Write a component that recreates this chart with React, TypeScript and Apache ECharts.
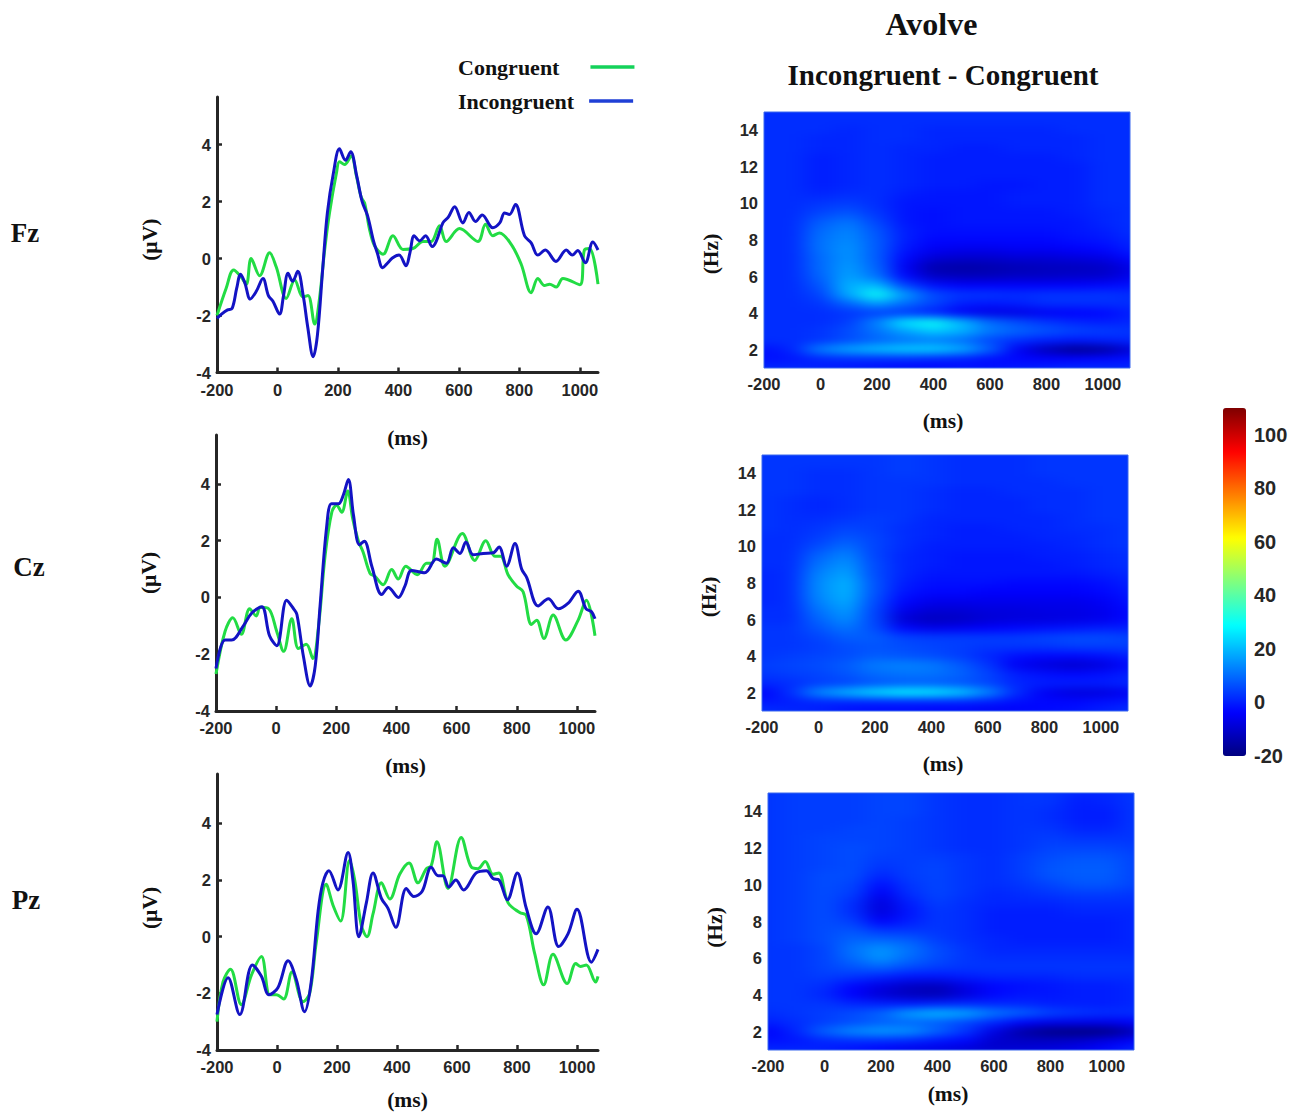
import React, { useEffect, useRef } from "react";
import * as echarts from "echarts";

const serif = "Liberation Serif";
const sans = "Liberation Sans";
const ink = "#262626";
const greenLine = "#22dc44";
const blueLine = "#1313c4";
const greenKey = "#14d25a";
const blueKey = "#1f3fd6";
const jetStops = ["#00007f", "#0000ff", "#007fff", "#00ffff", "#7fff7f", "#ffff00", "#ff7f00", "#ff0000", "#7f0000"];

const lineTicksX = [-200, 0, 200, 400, 600, 800, 1000];
const lineTicksY = [-4, -2, 0, 2, 4];
const heatTicksX = [-200, 0, 200, 400, 600, 800, 1000];
const heatTicksY = [2, 4, 6, 8, 10, 12, 14];
const barTicks = [-20, 0, 20, 40, 60, 80, 100];
const heatTimes = [-200, -100, 0, 100, 200, 300, 400, 500, 600, 700, 800, 900, 1000, 1100];
const heatFreqs = [1, 1.5, 2, 2.5, 3, 3.5, 4, 4.5, 5, 5.5, 6, 6.5, 7, 7.5, 8, 8.5, 9, 9.5, 10, 10.5, 11, 11.5, 12, 12.5, 13, 13.5, 14, 14.5, 15];

const fzCongruent = [[-200,-2.0],[-170,-1.05],[-145,-0.4],[-120,-0.65],[-103,-0.9],[-87,0],[-59,-0.6],[-26,0.2],[-4,-0.3],[29,-1.4],[57,-0.75],[84,-1.35],[101,-1.3],[123,-2.3],[139,-1.4],[156,0.3],[172,1.6],[195,3.0],[205,3.4],[222,3.3],[244,3.6],[261,2.9],[277,2.15],[288,1.95],[305,1.0],[321,0.45],[349,0.15],[382,0.8],[415,0.32],[448,0.35],[481,0.6],[508,0.6],[536,1.15],[558,0.6],[602,1.05],[663,0.6],[688,1.2],[712,0.8],[734,0.9],[773,0.5],[806,-0.2],[839,-1.2],[861,-0.7],[883,-0.95],[900,-0.9],[922,-1.0],[944,-0.7],[1000,-0.92],[1015,0.3],[1032,0.35],[1060,-0.9]];
const fzIncongruent = [[-200,-2.1],[-185,-1.95],[-165,-1.8],[-150,-1.75],[-135,-1.05],[-122,-0.55],[-108,-0.85],[-90,-1.42],[-70,-1.15],[-48,-0.7],[-30,-1.3],[-15,-1.5],[7,-1.95],[20,-1.3],[35,-0.52],[50,-0.8],[67,-0.45],[85,-1.3],[100,-2.4],[118,-3.45],[132,-2.7],[150,-0.3],[165,1.6],[185,3.0],[205,3.85],[225,3.45],[242,3.75],[262,2.9],[280,2.0],[298,1.5],[318,0.6],[330,0.2],[348,-0.32],[365,-0.15],[380,0.02],[402,0.12],[425,-0.25],[438,0.2],[452,0.8],[470,0.62],[490,0.8],[512,0.42],[525,0.6],[547,1.25],[565,1.45],[586,1.82],[613,1.25],[633,1.62],[655,1.3],[677,1.53],[712,1.08],[735,1.25],[751,1.6],[767,1.55],[787,1.9],[817,0.8],[839,0.55],[861,0.12],[886,0.3],[921,-0.1],[955,0.3],[975,0.12],[993,0.28],[1018,-0.15],[1043,0.58],[1060,0.3]];
const czCongruent = [[-200,-2.7],[-170,-1.2],[-144,-0.72],[-116,-1.3],[-88,-0.4],[-66,-0.65],[-53,-0.35],[-25,-0.4],[2,-1.2],[25,-1.9],[52,-0.75],[74,-1.8],[100,-1.65],[122,-2.15],[141,-1.0],[163,1.5],[185,3.0],[201,3.25],[218,3.0],[238,3.75],[254,2.8],[273,2.0],[289,1.6],[312,0.85],[328,0.75],[356,0.45],[384,0.98],[406,0.65],[431,1.1],[469,0.8],[500,1.2],[517,1.2],[535,2.05],[561,1.1],[619,2.25],[660,1.3],[697,2.0],[727,1.45],[746,1.45],[771,0.8],[799,0.4],[821,0.2],[849,-0.95],[866,-0.8],[890,-1.45],[921,-0.62],[963,-1.5],[1004,-0.8],[1031,-0.1],[1060,-1.35]];
const czIncongruent = [[-200,-2.5],[-170,-1.5],[-148,-1.5],[-109,-1.0],[-81,-0.55],[-48,-0.33],[-22,-1.35],[2,-1.7],[35,-0.1],[58,-0.4],[69,-0.6],[91,-2.1],[113,-3.12],[130,-2.4],[146,-0.3],[168,2.5],[184,3.3],[207,3.3],[223,3.6],[240,4.15],[257,2.9],[277,1.85],[293,1.98],[318,1.1],[351,0.1],[373,0.35],[406,0],[428,0.4],[450,0.95],[494,0.87],[533,1.35],[566,1.2],[589,1.75],[611,1.55],[631,1.95],[655,1.5],[688,1.55],[722,1.57],[741,1.78],[766,1.1],[794,1.9],[816,1.0],[833,0.7],[871,-0.3],[905,-0.05],[938,-0.4],[971,-0.2],[1004,0.22],[1030,-0.4],[1048,-0.5],[1060,-0.75]];
const pzCongruent = [[-200,-3.0],[-180,-1.6],[-155,-1.15],[-119,-2.4],[-85,-1.35],[-52,-0.7],[-24,-2.05],[-2,-2.05],[22,-2.2],[50,-1.25],[87,-2.3],[109,-2.0],[131,-0.2],[164,1.85],[187,1.1],[212,0.55],[242,2.7],[259,2.0],[281,0.4],[300,0],[320,0.8],[348,1.9],[376,1.33],[409,2.2],[440,2.6],[470,1.9],[498,2.4],[514,2.5],[533,3.35],[570,1.7],[614,3.5],[648,2.45],[670,2.4],[694,2.65],[720,2.2],[739,2.25],[770,1.2],[809,0.85],[831,0.75],[859,-0.6],[889,-1.7],[920,-0.62],[967,-1.65],[996,-0.95],[1011,-1.05],[1031,-1.0],[1062,-1.6],[1070,-1.4]];
const pzIncongruent = [[-200,-2.75],[-163,-1.45],[-124,-2.75],[-82,-1.0],[-52,-1.4],[-27,-2.05],[3,-1.8],[37,-0.85],[64,-1.5],[92,-2.65],[114,-1.6],[137,0.9],[153,1.9],[173,2.33],[203,1.65],[237,2.97],[253,2.0],[273,0],[298,1.2],[320,2.25],[348,1.35],[370,1.0],[396,0.33],[431,1.7],[456,1.42],[484,1.6],[514,2.45],[537,2.15],[553,2.15],[573,1.75],[596,2.0],[622,1.65],[664,2.25],[698,2.33],[720,2.05],[740,2.0],[768,1.3],[801,2.25],[831,1.0],[864,0.1],[903,1.05],[939,-0.35],[970,0.1],[1000,0.97],[1048,-0.9],[1070,-0.45]];

// rows run from 15 Hz (first) down to 1 Hz (last), columns follow heatTimes
const fzPower = [
[2,2,2,2,2,2,2,2,2,2,2,2,2,2],[2,2,2,2,2,2,2,2,2,2,2,2,2,2],[2,2,2,1,2,2,1,1,1,1,1,2,2,2],[2,2,1,1,2,2,1,1,1,1,1,1,2,2],
[2,2,1,1,2,1,1,0,0,1,1,1,2,2],[2,2,0,1,2,1,0,0,0,0,0,1,2,2],[2,2,0,1,2,1,0,0,0,0,0,0,2,2],[2,2,0,1,2,1,0,0,0,0,0,0,2,2],
[2,2,0,1,2,1,0,0,-1,-1,0,0,2,2],[2,2,1,2,2,0,-1,-1,-1,0,0,0,2,2],[2,2,3,4,2,-1,-1,-1,-1,0,0,0,2,2],[2,2,5,7,3,-1,-2,-1,-1,-1,-1,0,1,2],
[2,2,8,11,5,-1,-2,-1,-1,-1,-1,-1,1,2],[2,2,10,13,7,0,-2,-2,-2,-2,-2,-1,0,2],[2,2,11,14,8,0,-3,-3,-3,-3,-3,-2,-1,1],[2,2,11,15,8,-1,-5,-6,-6,-5,-5,-4,-3,0],
[2,2,10,15,8,-3,-9,-10,-10,-9,-9,-8,-7,-3],[2,2,10,16,9,-5,-14,-15,-14,-13,-12,-12,-11,-7],[2,2,9,17,11,-3,-11,-12,-12,-11,-11,-10,-10,-6],[2,2,7,19,20,5,-2,-4,-4,-4,-4,-4,-3,-2],
[2,2,5,18,30,16,6,3,3,2,3,3,3,2],[2,2,3,9,16,10,5,0,-1,0,2,2,2,2],[2,2,2,3,4,3,0,-5,-7,-7,-5,-4,-3,0],[2,2,2,4,13,26,30,20,10,6,3,1,0,1],
[2,2,3,6,11,17,22,19,12,9,7,5,4,3],[2,2,3,6,9,11,12,10,5,2,0,-1,0,1],[-2,1,13,18,21,23,23,19,9,-5,-13,-18,-16,-9],[-2,-1,1,2,2,2,1,0,-2,-3,-4,-4,-3,-2],
[1,1,0,-1,-2,-3,-3,-2,-2,-1,0,1,1,1]];
const czPower = [
[3,3,3,3,3,4,3,2,2,2,3,3,3,3],[3,3,3,3,3,4,3,2,2,2,3,3,3,3],[3,3,2,2,3,4,3,2,2,2,3,3,3,3],[3,3,2,2,3,3,3,2,2,2,2,3,3,3],
[3,3,2,2,3,3,2,1,1,2,2,2,3,3],[3,2,1,2,3,3,2,1,1,1,2,2,3,3],[3,2,1,2,3,3,2,1,1,1,2,2,3,3],[3,2,2,3,4,3,1,1,1,1,1,2,3,3],
[3,2,3,5,4,2,1,0,0,1,1,2,2,3],[2,2,4,7,5,2,1,0,0,0,1,1,2,3],[2,2,6,10,5,2,0,0,0,0,0,1,2,3],[2,2,9,13,5,1,0,-1,-1,-1,0,0,1,2],
[2,2,11,15,6,1,0,-1,-1,-1,-1,0,1,2],[1,2,13,17,6,1,-1,-1,-1,-1,-1,-1,0,1],[1,2,14,19,7,0,-2,-2,-2,-3,-3,-3,-2,0],[1,2,14,19,7,-1,-3,-3,-4,-4,-4,-4,-3,-1],
[1,2,13,18,6,-3,-6,-6,-6,-6,-6,-6,-5,-2],[2,2,11,16,5,-6,-9,-9,-8,-8,-7,-7,-6,-3],[2,2,9,14,5,-9,-12,-11,-9,-8,-8,-7,-6,-3],[3,3,7,11,6,-3,-6,-5,-4,-3,-2,-1,0,0],
[3,3,5,8,8,5,4,4,4,4,5,6,6,5],[3,3,4,6,7,6,5,4,3,3,3,4,4,4],[3,4,5,6,8,7,6,4,1,-2,-3,-3,-2,0],[4,5,6,8,12,13,12,8,3,-5,-8,-10,-8,-3],
[3,4,5,7,10,11,11,9,5,0,-2,-3,-2,0],[1,2,4,5,7,8,8,7,5,1,0,0,0,1],[-4,2,14,20,25,28,27,23,14,2,-5,-8,-8,-5],[-1,0,1,1,1,1,1,1,0,-2,-3,-3,-2,-1],
[2,1,0,-2,-3,-3,-4,-4,-5,-4,-3,-2,0,2]];
const pzPower = [
[3,4,4,4,5,5,3,2,2,3,3,1,1,3],[3,4,4,4,5,5,3,2,2,3,3,0,1,3],[3,4,4,4,5,5,3,2,2,3,2,0,0,3],[3,4,4,4,5,4,3,2,2,3,2,0,0,3],
[3,4,4,5,5,4,3,2,2,3,3,1,1,3],[3,4,5,5,5,4,3,2,2,3,4,3,3,3],[3,4,5,6,5,4,3,2,2,3,5,5,5,4],[3,4,5,6,4,4,4,3,2,4,6,7,7,5],
[3,4,5,6,3,4,5,3,2,4,7,8,8,5],[3,4,6,6,1,4,5,3,2,4,7,8,8,5],[3,4,6,5,-2,3,5,3,2,3,5,7,7,5],[3,4,6,4,-5,2,5,3,1,2,3,4,4,3],
[3,4,6,2,-8,0,4,2,1,1,1,2,2,2],[3,4,6,2,-8,-1,3,2,0,0,0,1,1,1],[3,4,6,4,-4,0,3,2,0,0,0,0,0,1],[3,4,6,7,3,3,3,2,0,0,0,0,0,1],
[3,4,6,9,9,8,4,2,1,0,0,0,0,1],[3,3,5,11,15,11,6,3,1,1,1,1,1,1],[3,3,5,10,15,10,6,3,2,2,2,2,2,2],[3,3,5,7,9,6,4,3,3,3,3,3,3,3],
[3,3,4,3,1,-1,-1,0,1,1,1,2,2,2],[3,3,2,-3,-7,-11,-12,-7,-3,-2,-1,0,0,1],[3,3,1,-4,-9,-12,-13,-8,-3,-1,-1,0,0,1],[3,3,3,1,0,-1,0,1,1,1,0,0,0,1],
[2,3,4,6,9,17,20,18,12,9,5,3,2,2],[0,2,4,6,8,9,8,5,1,-4,-6,-6,-6,-4],[-4,1,9,14,16,15,9,3,-7,-15,-19,-20,-19,-13],[-2,-1,1,2,2,1,-1,-3,-10,-11,-11,-10,-7,-4],
[1,1,0,-2,-4,-6,-7,-9,-10,-9,-8,-6,-3,1]];

const lineGrids = [
  { left: 217, top: 97, width: 381, height: 275.5, yMax: 5.67, xMax: 1060, a: fzCongruent, b: fzIncongruent, msGap: 54, uvPad: [0, 10, 0, 0] },
  { left: 216, top: 435, width: 379, height: 276, yMax: 5.72, xMax: 1060, a: czCongruent, b: czIncongruent, msGap: 44, uvPad: [0, 0, 0, 0] },
  { left: 217, top: 774, width: 381, height: 276, yMax: 5.74, xMax: 1070, a: pzCongruent, b: pzIncongruent, msGap: 39, uvPad: [0, 0, 0, 8] },
];
const heatGrids = [
  { left: 764, top: 112, width: 366, height: 256, power: fzPower, msGap: 42, msPad: [0, 8, 0, 0], hzPad: [0, 28, 0, 0] },
  { left: 762, top: 455, width: 366, height: 256, power: czPower, msGap: 42, msPad: [0, 4, 0, 0], hzPad: [0, 28, 0, 0] },
  { left: 768, top: 793, width: 366, height: 257, power: pzPower, msGap: 33, msPad: [0, 6, 0, 0], hzPad: [0, 12, 0, 0] },
];
const rowLabels = [
  { text: "Fz", x: 25, y: 233 },
  { text: "Cz", x: 29, y: 567 },
  { text: "Pz", x: 26, y: 900 },
];

const PAD = 40;
const plain = (v: number) => String(v);

function heatOption(power: number[][], width: number, height: number) {
  const cellW = (width * 100) / 1296;
  const cellH = height / 28;
  const data: number[][] = [];
  power.forEach((row, r) => row.forEach((v, c) => data.push([c, power.length - 1 - r, v])));
  return {
    animation: false,
    backgroundColor: "#0a38f0",
    grid: {
      left: PAD - cellW / 2,
      top: PAD - cellH / 2,
      width: cellW * heatTimes.length,
      height: cellH * heatFreqs.length,
      outerBoundsMode: "none",
    },
    xAxis: { type: "category", data: heatTimes.map(String), show: false },
    yAxis: { type: "category", data: heatFreqs.map(String), show: false },
    visualMap: { show: false, min: -20, max: 110, inRange: { color: jetStops } },
    series: [{ type: "heatmap", data, progressive: 0, itemStyle: { borderWidth: 0 } }],
  };
}

function mainOption() {
  const grid: any[] = [];
  const xAxis: any[] = [];
  const yAxis: any[] = [];
  const series: any[] = [];
  const tickLabel = { fontFamily: sans, fontWeight: "bold", fontSize: 16.5, color: ink, formatter: plain };
  const axisName = { fontFamily: serif, fontWeight: "bold", fontSize: 21.5, color: "#111" };

  lineGrids.forEach((g) => {
    grid.push({ left: g.left, top: g.top, width: g.width, height: g.height, outerBoundsMode: "none" });
    xAxis.push({
      type: "value", gridIndex: grid.length - 1, min: -200, max: g.xMax,
      name: "(ms)", nameLocation: "middle", nameGap: g.msGap, nameTextStyle: axisName,
      axisLine: { onZero: false, lineStyle: { color: ink, width: 3 } },
      axisTick: { inside: true, length: 5, customValues: lineTicksX, lineStyle: { color: ink, width: 2.5 } },
      axisLabel: { ...tickLabel, margin: 8.5, customValues: lineTicksX },
      splitLine: { show: false },
    });
    yAxis.push({
      type: "value", gridIndex: grid.length - 1, min: -4, max: g.yMax,
      name: "(\u00b5V)", nameLocation: "middle", nameGap: 56, nameTextStyle: { ...axisName, padding: g.uvPad },
      axisLine: { onZero: false, lineStyle: { color: ink, width: 3 } },
      axisTick: { inside: true, length: 5, customValues: lineTicksY, lineStyle: { color: ink, width: 2.5 } },
      axisLabel: { ...tickLabel, margin: 6, customValues: lineTicksY },
      splitLine: { show: false },
    });
    const idx = grid.length - 1;
    series.push({ type: "line", name: "Congruent", xAxisIndex: idx, yAxisIndex: idx, data: g.a, smooth: 0.35, symbol: "none", lineStyle: { width: 3, color: greenLine }, itemStyle: { color: greenLine } });
    series.push({ type: "line", name: "Incongruent", xAxisIndex: idx, yAxisIndex: idx, data: g.b, smooth: 0.35, symbol: "none", lineStyle: { width: 3, color: blueLine }, itemStyle: { color: blueLine } });
  });

  heatGrids.forEach((g) => {
    grid.push({ left: g.left, top: g.top, width: g.width, height: g.height, show: true, backgroundColor: "transparent", borderColor: "#3a68ee", borderWidth: 1, outerBoundsMode: "none" });
    xAxis.push({
      type: "value", gridIndex: grid.length - 1, min: -200, max: 1096,
      name: "(ms)", nameLocation: "middle", nameGap: g.msGap, nameTextStyle: { ...axisName, padding: g.msPad },
      axisLine: { show: false, onZero: false }, axisTick: { show: false },
      axisLabel: { ...tickLabel, margin: 7, customValues: heatTicksX }, splitLine: { show: false },
    });
    yAxis.push({
      type: "value", gridIndex: grid.length - 1, min: 1, max: 15,
      name: "(Hz)", nameLocation: "middle", nameGap: 42, nameTextStyle: { ...axisName, padding: g.hzPad },
      axisLine: { show: false, onZero: false }, axisTick: { show: false },
      axisLabel: { ...tickLabel, margin: 6, customValues: heatTicksY }, splitLine: { show: false },
    });
  });

  grid.push({ left: 1223, top: 408, width: 23, height: 348, outerBoundsMode: "none" });
  xAxis.push({ type: "value", gridIndex: grid.length - 1, min: 0, max: 1, show: false });
  yAxis.push({
    type: "value", gridIndex: grid.length - 1, position: "right", min: -20, max: 110,
    axisLine: { show: false }, axisTick: { show: false }, splitLine: { show: false },
    axisLabel: { fontFamily: sans, fontWeight: "bold", fontSize: 20, color: ink, margin: 8, customValues: barTicks },
  });

  const legendBase = { orient: "vertical", left: 458, align: "right", itemWidth: 44, itemHeight: 3.5, icon: "rect", padding: 0 };
  const legendText = { fontFamily: serif, fontWeight: "bold", fontSize: 22, color: "#111" };

  return {
    animation: false,
    backgroundColor: "transparent",
    title: [
      { text: "Avolve", left: 931.5, top: 8, padding: 0, textAlign: "center", textStyle: { fontFamily: serif, fontWeight: "bold", fontSize: 32, color: "#111" } },
      { text: "Incongruent - Congruent", left: 943, top: 60, padding: 0, textAlign: "center", textStyle: { fontFamily: serif, fontWeight: "bold", fontSize: 29, color: "#111" } },
    ],
    legend: [
      { ...legendBase, top: 56, data: [{ name: "Congruent", itemStyle: { color: greenKey } }], textStyle: { ...legendText, padding: [0, 26, 0, 0] } },
      { ...legendBase, top: 90, data: [{ name: "Incongruent", itemStyle: { color: blueKey } }], textStyle: { ...legendText, padding: [0, 10, 0, 0] } },
    ],
    grid, xAxis, yAxis, series,
    visualMap: {
      type: "continuous", show: true, seriesIndex: [], min: -20, max: 110, left: 1223, top: 408,
      itemWidth: 23, itemHeight: 348, calculable: false, hoverLink: false, padding: 0,
      inRange: { color: jetStops },
    },
    graphic: rowLabels.map((r) => ({
      type: "text", x: r.x, y: r.y,
      style: { text: r.text, fontFamily: serif, fontWeight: "bold", fontSize: 27, fill: "#111", align: "center", verticalAlign: "middle" },
    })),
  };
}

export default function App() {
  const mainRef = useRef<HTMLDivElement>(null);
  const heatRefs = useRef<(HTMLDivElement | null)[]>([]);

  useEffect(() => {
    const charts = heatGrids.map((g, i) => {
      const c = echarts.init(heatRefs.current[i] as HTMLDivElement, undefined, { renderer: "svg" });
      c.setOption(heatOption(g.power, g.width, g.height));
      return c;
    });
    const main = echarts.init(mainRef.current as HTMLDivElement, undefined, { renderer: "svg" });
    main.setOption(mainOption());
    charts.push(main);
    return () => charts.forEach((c) => c.dispose());
  }, []);

  return (
    <div style={{ position: "absolute", left: 0, top: 0, width: 1297, height: 1112, background: "#fff", overflow: "hidden" }}>
      <svg width={0} height={0} style={{ position: "absolute" }}>
        <filter id="heatBlur" x="0" y="0" width="100%" height="100%" colorInterpolationFilters="sRGB">
          <feGaussianBlur stdDeviation="11 4" />
        </filter>
      </svg>
      {heatGrids.map((g, i) => (
        <div key={i} style={{ position: "absolute", left: g.left, top: g.top, width: g.width, height: g.height, overflow: "hidden" }}>
          <div
            ref={(el) => { heatRefs.current[i] = el; }}
            style={{ position: "absolute", left: -PAD, top: -PAD, width: g.width + 2 * PAD, height: g.height + 2 * PAD, filter: "url(#heatBlur)" }}
          />
        </div>
      ))}
      <div ref={mainRef} style={{ position: "absolute", left: 0, top: 0, width: 1297, height: 1112 }} />
    </div>
  );
}
